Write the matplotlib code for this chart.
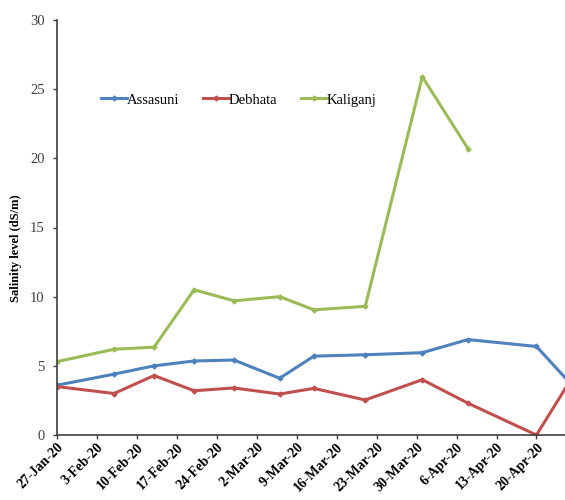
import pandas as pd
import matplotlib.pyplot as plt
import matplotlib.dates as mdates

# --- dados de salinidade ---
dates = pd.to_datetime([
    "2020-01-27", "2020-02-06", "2020-02-13", "2020-02-20", "2020-02-27",
    "2020-03-06", "2020-03-12", "2020-03-21", "2020-03-31", "2020-04-08",
    "2020-04-20", "2020-04-27",
])
assasuni = [3.6, 4.4, 5.0, 5.35, 5.42, 4.1, 5.7, 5.8, 5.95, 6.9, 6.4, 3.25]
debhata = [3.5, 3.0, 4.3, 3.2, 3.4, 2.96, 3.37, 2.53, 4.0, 2.3, 0.0, 4.66]
kaliganj = [5.3, 6.2, 6.35, 10.5, 9.7, 10.0, 9.05, 9.3, 25.9, 20.7]

tick_dates = pd.date_range("2020-01-27", "2020-04-20", freq="7D")

plt.rcParams["font.family"] = "Liberation Serif"

fig = plt.figure(figsize=(5.65, 5.0), dpi=100)
ax = fig.add_axes([0.101, 0.13, 0.899, 0.83])

ax.plot(dates, assasuni, color="#4F81BD", lw=2.2, marker="D", ms=2.5, label="Assasuni")
ax.plot(dates, debhata, color="#C0504D", lw=2.2, marker="D", ms=2.5, label="Debhata")
ax.plot(dates[:len(kaliganj)], kaliganj, color="#9BBB59", lw=2.2, marker="D", ms=2.5,
        label="Kaliganj")

ax.set_ylim(0, 30)
ax.set_yticks(range(0, 31, 5))
ax.set_xlim(pd.Timestamp("2020-01-27"), pd.Timestamp("2020-04-25"))
ax.set_xticks(tick_dates)
ax.xaxis.set_major_formatter(mdates.DateFormatter("%-d-%b-%y"))
for lbl in ax.get_xticklabels():
    lbl.set_rotation(45)
    lbl.set_ha("right")
    lbl.set_rotation_mode("anchor")
    lbl.set_fontweight("bold")
    lbl.set_fontsize(10)
for lbl in ax.get_yticklabels():
    lbl.set_fontsize(10.5)
    lbl.set_color("#404040")

ax.set_ylabel("Salinity level (dS/m)", fontweight="bold", fontsize=9)
ax.yaxis.set_label_coords(-0.07, 0.45)

ax.spines["top"].set_visible(False)
ax.spines["right"].set_visible(False)
ax.spines["left"].set_linewidth(1.2)
ax.spines["bottom"].set_linewidth(1.2)
ax.spines["left"].set_color("#404040")
ax.spines["bottom"].set_color("#404040")
ax.tick_params(axis="both", direction="out", length=3, width=1, colors="#404040")
ax.tick_params(axis="x", labelcolor="black", pad=1)
ax.tick_params(axis="y", pad=6)

ax.legend(loc="upper left", bbox_to_anchor=(0.06, 0.855), ncol=3, frameon=False,
          fontsize=10.5, handlelength=1.8, handletextpad=0.0, columnspacing=1.6)

plt.savefig("out.png", dpi=100)
